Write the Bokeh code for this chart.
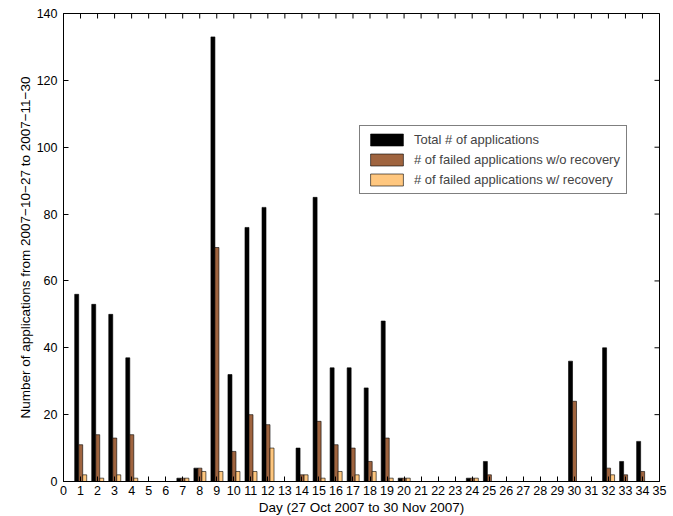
import math
from bokeh.plotting import figure
from bokeh.models import Range1d, LinearAxis, FixedTicker, Legend, LegendItem, ColumnDataSource
from bokeh.transform import dodge
from bokeh.embed import file_html
from bokeh.resources import INLINE

days = list(range(1, 35))
total = [56, 53, 50, 37, 0, 0, 1, 4, 133, 32, 76, 82, 0, 10, 85, 34, 34, 28, 48, 1,
         0, 0, 0, 1, 6, 0, 0, 0, 0, 36, 0, 40, 6, 12]
failed_no_recovery = [11, 14, 13, 14, 0, 0, 1, 4, 70, 9, 20, 17, 0, 2, 18, 11, 10, 6, 13, 1,
                      0, 0, 0, 1, 2, 0, 0, 0, 0, 24, 0, 4, 2, 3]
failed_recovery = [2, 1, 2, 1, 0, 0, 1, 3, 3, 3, 3, 10, 0, 2, 1, 3, 2, 3, 1, 1,
                   0, 0, 0, 1, 0, 0, 0, 0, 0, 0, 0, 2, 0, 0]
x_ticks = list(range(0, 36))
y_ticks = list(range(0, 141, 20))
series_names = ["Total # of applications",
                "# of failed applications w/o recovery",
                "# of failed applications w/ recovery"]
colors = ["#000000", "#9f643f", "#ffc77f"]

src = ColumnDataSource(dict(day=days, total=total, norec=failed_no_recovery, rec=failed_recovery))

FONT = "Liberation Sans"
X_MAX = x_ticks[-1]
Y_MAX = y_ticks[-1]

p = figure(frame_width=596, frame_height=468, x_range=Range1d(0, X_MAX), y_range=Range1d(0, Y_MAX),
           output_backend="svg", toolbar_location=None,
           min_border_left=63, min_border_top=13, min_border_right=12, min_border_bottom=35,
           x_axis_location=None, y_axis_location=None)
p.xgrid.visible = False
p.ygrid.visible = False
p.outline_line_color = "black"
p.outline_line_width = 1
p.background_fill_color = "white"
p.border_fill_color = "white"

w = 0.235
r1 = p.vbar(x=dodge("day", -0.225, range=p.x_range), top="total", width=w, source=src,
            fill_color=colors[0], line_color="black", line_width=0.6)
r2 = p.vbar(x=dodge("day", 0.01, range=p.x_range), top="norec", width=w, source=src,
            fill_color=colors[1], line_color="black", line_width=0.6)
r3 = p.vbar(x=dodge("day", 0.245, range=p.x_range), top="rec", width=w, source=src,
            fill_color=colors[2], line_color="black", line_width=0.6)

# mirrored inward ticks on the top and right edges
p.scatter(x=x_ticks, y=[Y_MAX] * len(x_ticks), marker="dash", angle=math.pi / 2, size=10,
          line_color="black", line_width=1)
p.scatter(x=[X_MAX] * len(y_ticks), y=y_ticks, marker="dash", size=10,
          line_color="black", line_width=1)

def style(ax):
    ax.major_tick_in = 5
    ax.major_tick_out = 0
    ax.minor_tick_in = 0
    ax.minor_tick_out = 0
    ax.axis_line_color = "black"
    ax.major_tick_line_color = "black"
    ax.major_label_text_font = FONT
    ax.major_label_text_font_size = "12.5px"
    ax.major_label_text_color = "black"
    ax.axis_label_text_font = FONT
    ax.axis_label_text_font_size = "13.5px"
    ax.axis_label_text_font_style = "normal"
    ax.axis_label_text_color = "black"

xb = LinearAxis(ticker=FixedTicker(ticks=x_ticks), axis_label="Day (27 Oct 2007 to 30 Nov 2007)")
style(xb)
xb.major_label_standoff = 4
xb.axis_label_standoff = 2
p.add_layout(xb, "below")

yl = LinearAxis(ticker=FixedTicker(ticks=y_ticks),
                axis_label="Number of applications from 2007\u221210\u221227 to 2007\u221211\u221230")
style(yl)
yl.major_label_standoff = 6
yl.axis_label_standoff = 1
p.add_layout(yl, "left")

legend = Legend(items=[LegendItem(label=series_names[0], renderers=[r1]),
                       LegendItem(label=series_names[1], renderers=[r2]),
                       LegendItem(label=series_names[2], renderers=[r3])],
                location=(296, 287))
legend.glyph_width = 41
legend.glyph_height = 15
legend.label_text_font = FONT
legend.label_text_font_size = "13px"
legend.label_standoff = 7
legend.padding = 6
legend.spacing = 5
legend.margin = 0
legend.border_line_color = "black"
legend.border_line_width = 1
legend.background_fill_alpha = 1
legend.label_height = 15
p.add_layout(legend)

open("out.html", "w").write(file_html(p, INLINE))
